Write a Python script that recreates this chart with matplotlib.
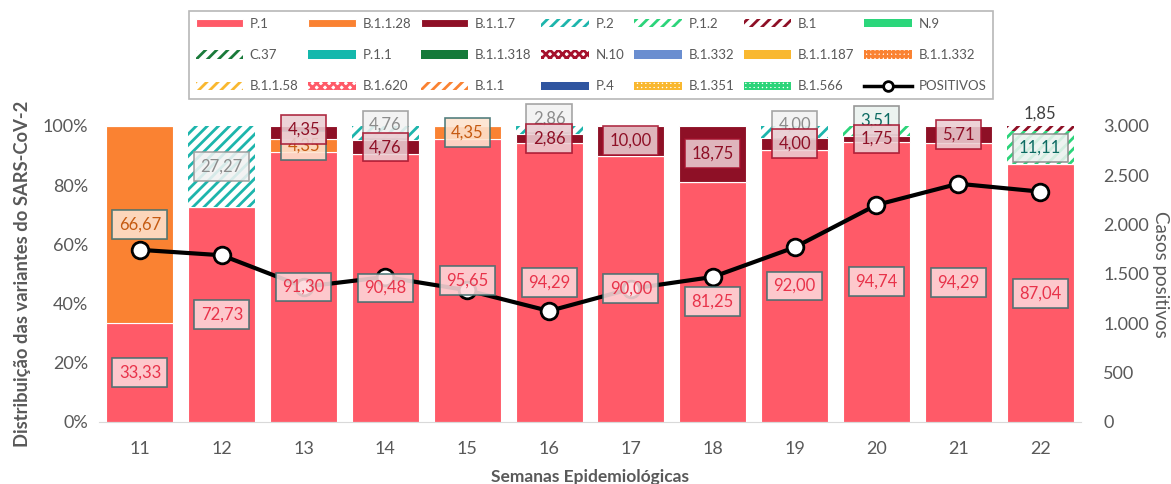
import matplotlib
matplotlib.use("Agg")
import matplotlib.pyplot as plt
from matplotlib.lines import Line2D
from matplotlib.ticker import FuncFormatter
import numpy as np

plt.rcParams['font.family'] = ['Lato', 'DejaVu Sans']
plt.rcParams['hatch.linewidth'] = 2.0

weeks = ['11', '12', '13', '14', '15', '16', '17', '18', '19', '20', '21', '22']

# percentage of each variant per epidemiological week
p1 = [33.33, 72.73, 91.30, 90.48, 95.65, 94.29, 90.00, 81.25, 92.00, 94.74, 94.29, 87.04]
b1128 = [66.67, 0, 4.35, 0, 4.35, 0, 0, 0, 0, 0, 0, 0]
b117 = [0, 0, 4.35, 4.76, 0, 2.86, 10.00, 18.75, 4.00, 1.75, 5.71, 0]
p2 = [0, 27.27, 0, 4.76, 0, 2.86, 0, 0, 4.00, 0, 0, 0]
p12 = [0, 0, 0, 0, 0, 0, 0, 0, 0, 3.51, 0, 11.11]
b1 = [0, 0, 0, 0, 0, 0, 0, 0, 0, 0, 0, 1.85]
zeros = [0] * 12

# positive cases (right axis)
positivos = [1745, 1690, 1370, 1470, 1335, 1125, 1350, 1470, 1770, 2200, 2415, 2335]

variants = ['P.1', 'B.1.1.28', 'B.1.1.7', 'P.2', 'P.1.2', 'B.1', 'N.9',
            'C.37', 'P.1.1', 'B.1.1.318', 'N.10', 'B.1.332', 'B.1.1.187', 'B.1.1.332',
            'B.1.1.58', 'B.1.620', 'B.1.1', 'P.4', 'B.1.351', 'B.1.566']
values = [p1, b1128, b117, p2, p12, b1, zeros,
          zeros, zeros, zeros, zeros, zeros, zeros, zeros,
          zeros, zeros, zeros, zeros, zeros, zeros]

# color, hatch per variant
styles = {
    'P.1': ('#FF5A68', None),
    'B.1.1.28': ('#FA8232', None),
    'B.1.1.7': ('#8E1026', None),
    'P.2': ('#1DB5AC', '///'),
    'P.1.2': ('#2CD47A', '///'),
    'B.1': ('#8E1026', '///'),
    'N.9': ('#2BD67B', None),
    'C.37': ('#1A7A3A', '///'),
    'P.1.1': ('#14B8AC', None),
    'B.1.1.318': ('#157A3A', None),
    'N.10': ('#A5122D', 'xxxx'),
    'B.1.332': ('#6A8ED0', None),
    'B.1.1.187': ('#F9B830', None),
    'B.1.1.332': ('#FA8232', '++++'),
    'B.1.1.58': ('#F9B830', '///'),
    'B.1.620': ('#FF5A68', 'xxxx'),
    'B.1.1': ('#FA8232', '///'),
    'P.4': ('#2F55A0', None),
    'B.1.351': ('#F9B830', '++++'),
    'B.1.566': ('#2CD47A', '++++'),
}

# text color, box face, box edge, zorder for the value labels
label_styles = {
    'P.1': ('#E8334A', '#FDD8DB', '#3E6E6E', 4),
    'B.1.1.28': ('#C55A11', '#FDE3CF', '#3E7070', 4),
    'B.1.1.7': ('#8E1026', '#EBCDD2', '#A5122D', 6),
    'P.2': ('#8C8C8C', '#F2F2F2', '#9A9A9A', 5),
    'P.1.2': ('#0E6B63', '#EAF2EF', '#8A8A8A', 5),
}
# labels nudged upward (pixels) so the small stacked ones stay readable
label_nudge = {('B.1.1.7', 2): 3, ('P.2', 3): 8, ('P.2', 5): 12,
               ('P.2', 8): 7, ('P.1.2', 9): 11}

fig = plt.figure(figsize=(11.71, 4.84), dpi=100)
ax = fig.add_axes([99 / 1171, 1 - 422 / 484, 982 / 1171, 296 / 484])
ax2 = ax.twinx()

x = np.arange(len(weeks))
bottom = np.zeros(len(weeks))
handles = {}
for name, vals in zip(variants, values):
    color, hatch = styles[name]
    vals = np.array(vals, dtype=float)
    if hatch:
        bars = ax.bar(x, vals, 0.82, bottom=bottom, facecolor='white',
                      edgecolor=color, hatch=hatch, linewidth=0)
    elif vals.any():
        bars = ax.bar(x, vals, 0.82, bottom=bottom, color=color,
                      edgecolor='white', linewidth=0.8)
    else:
        bars = ax.bar(x, vals, 0.82, bottom=bottom, color=color, linewidth=0)
    handles[name] = bars
    for xi, v, b in zip(x, vals, bottom):
        if v <= 0:
            continue
        txt = f'{v:.2f}'.replace('.', ',')
        # labels live on the twin axes so they sit above the cases line
        if name in label_styles:
            tc, fc, ec, z = label_styles[name]
            ax2.annotate(txt, (xi, b + v / 2), xycoords=ax.transData,
                         xytext=(0, label_nudge.get((name, xi), 0) * 0.72),
                         textcoords='offset points', ha='center', va='center',
                         fontsize=12, color=tc, zorder=z, annotation_clip=False,
                         bbox=dict(boxstyle='square,pad=0.38', fc=fc, ec=ec, lw=1.2, alpha=0.88))
        else:
            ax.text(xi, b + v + 1.5, txt, ha='center', va='bottom', fontsize=12,
                    color='#404040')
    bottom += vals

ax.set_xlim(-0.5, len(weeks) - 0.5)
ax.set_ylim(0, 100)
ax.set_xticks(x)
ax.set_xticklabels(weeks)
ax.set_yticks(np.arange(0, 101, 20))
ax.yaxis.set_major_formatter(FuncFormatter(lambda v, p: f'{int(v)}%'))
ax.tick_params(length=0, labelsize=13, colors='#595959', pad=8)
ax.tick_params(axis='x', pad=14)
for s in ['top', 'right', 'left']:
    ax.spines[s].set_visible(False)
ax.spines['bottom'].set_color('#D9D9D9')
ax.set_ylabel('Distribuição das variantes do SARS-CoV-2', fontsize=13.2,
              fontweight='bold', color='#595959', labelpad=8)
ax.set_xlabel('Semanas Epidemiológicas', fontsize=12.5, fontweight='bold',
              color='#595959', labelpad=8)

line, = ax2.plot(x, positivos, color='black', lw=3, marker='o', markersize=12,
                 markerfacecolor='white', markeredgecolor='black', markeredgewidth=2,
                 zorder=3)
ax2.set_ylim(0, 3000)
ax2.set_yticks(np.arange(0, 3001, 500))
ax2.yaxis.set_major_formatter(FuncFormatter(lambda v, p: f'{int(v):,}'.replace(',', '.')))
ax2.tick_params(length=0, labelsize=13, colors='#595959', pad=16)
for s in ax2.spines.values():
    s.set_visible(False)
ax2.set_ylabel('Casos positivos', fontsize=13.5, color='#595959', rotation=270, labelpad=14)

# legend laid out row by row
leg_line = Line2D([], [], color='black', lw=2.5, marker='o', markersize=7,
                  markerfacecolor='white', markeredgecolor='black', markeredgewidth=2)
names = variants + ['POSITIVOS']
hs = [handles[n] for n in variants] + [leg_line]
ncol, nrow = 7, 3
order = [r * ncol + c for c in range(ncol) for r in range(nrow)]
leg = fig.legend([hs[i] for i in order], [names[i] for i in order], ncol=ncol,
                 loc='upper left', bbox_to_anchor=(189 / 1171, 1 - 11 / 484),
                 borderaxespad=0, fontsize=9.5, frameon=True, fancybox=False,
                 edgecolor='#A6A6A6', handlelength=3.6, handleheight=0.6,
                 columnspacing=0.75, labelspacing=1.47, borderpad=0.5,
                 handletextpad=0.5)
leg.get_frame().set_linewidth(1.2)
for t in leg.get_texts():
    t.set_color('#595959')

fig.savefig('out.png', dpi=100)
